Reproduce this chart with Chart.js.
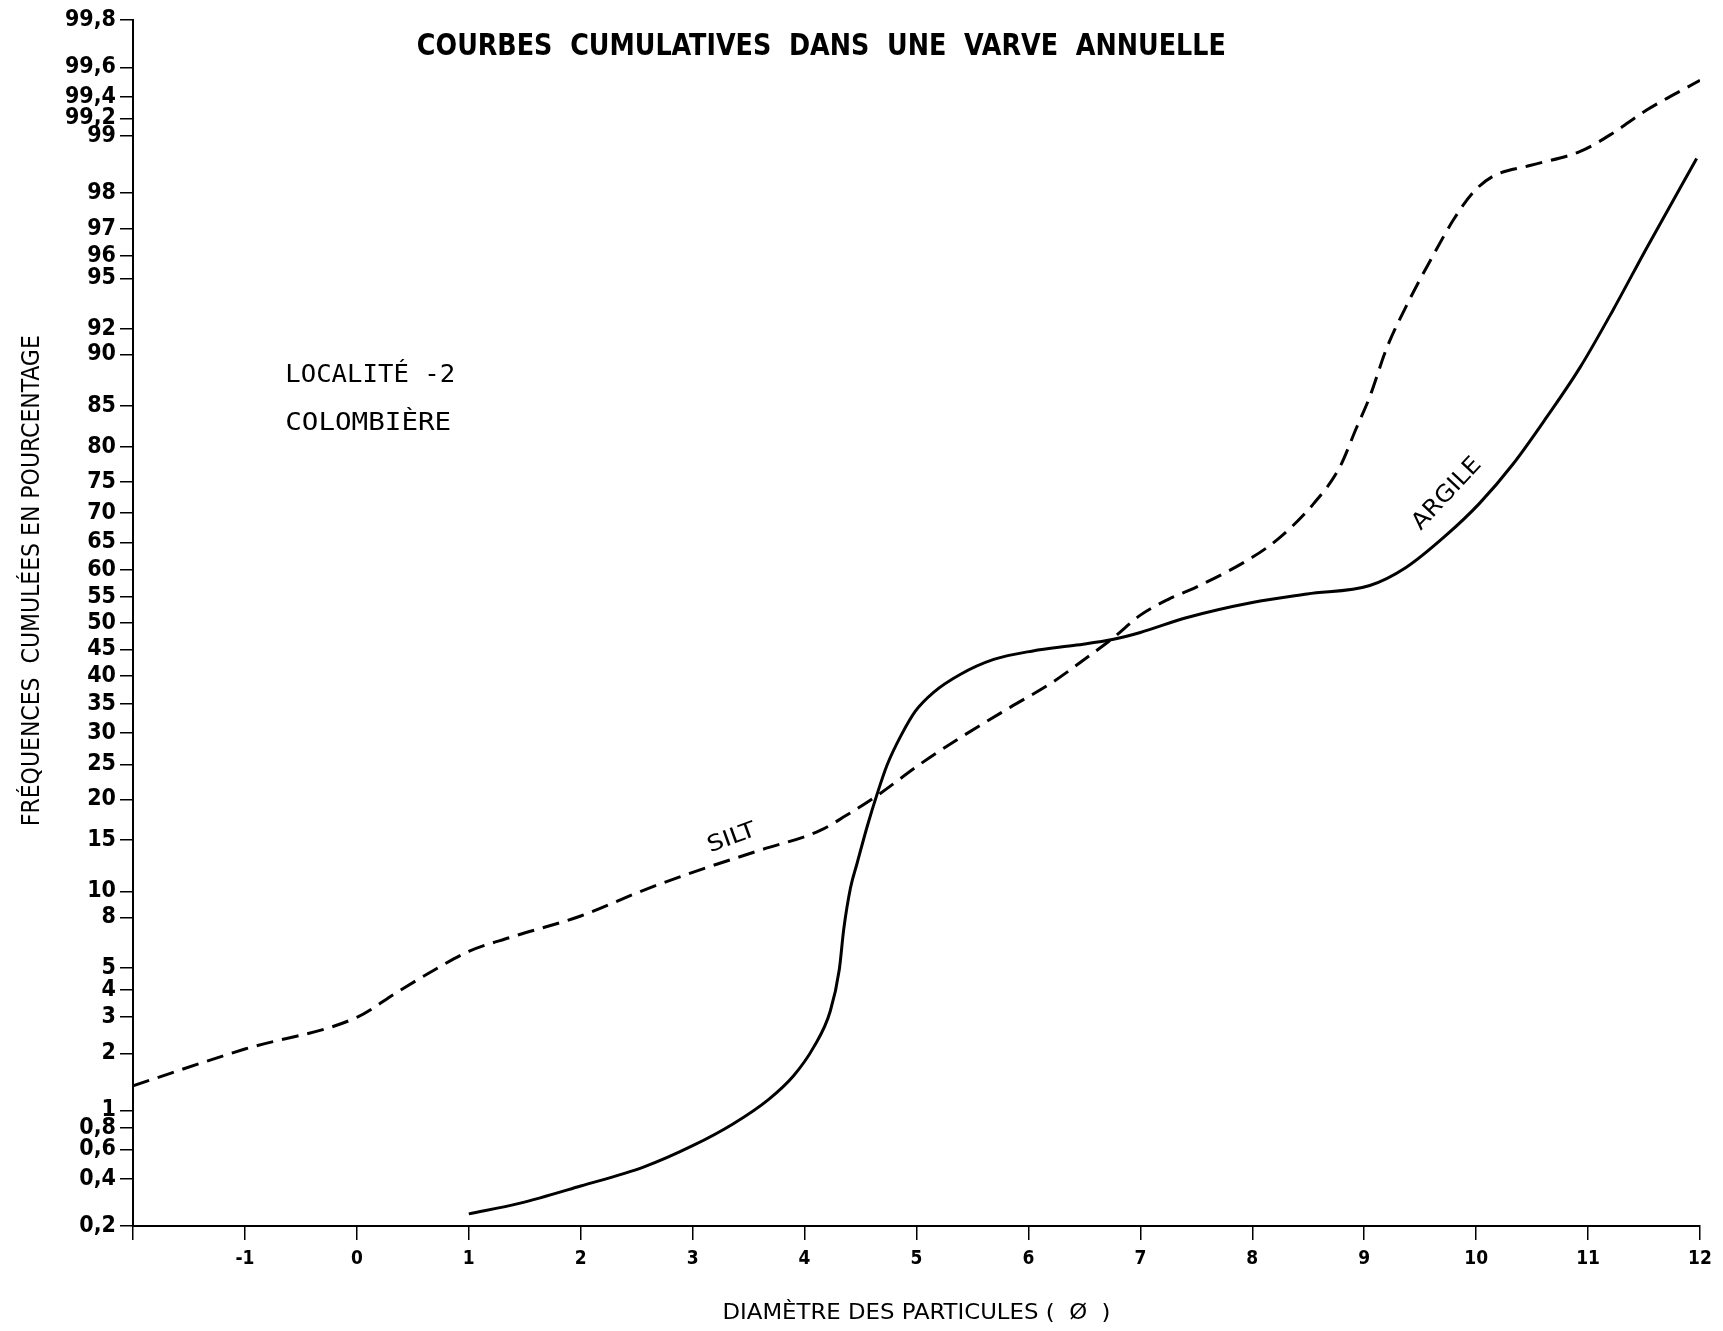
<!DOCTYPE html>
<html>
<head>
<meta charset="utf-8">
<title>Courbes cumulatives</title>
<script src="https://cdn.jsdelivr.net/npm/chart.js@4/dist/chart.umd.min.js"></script>
<style>
  html, body { margin: 0; padding: 0; background: #fff; }
  canvas { display: block; }
</style>
</head>
<body>
<canvas id="courbes" width="1723" height="1331"></canvas>
<script>
// diamètre en unités phi
const phiTicks = [-2, -1, 0, 1, 2, 3, 4, 5, 6, 7, 8, 9, 10, 11, 12];

// graduations de l'échelle de probabilité (en %)
const pctTicks = [0.2, 0.4, 0.6, 0.8, 1, 2, 3, 4, 5, 8, 10, 15, 20, 25, 30, 35, 40, 45, 50,
  55, 60, 65, 70, 75, 80, 85, 90, 92, 95, 96, 97, 98, 99, 99.2, 99.4, 99.6, 99.8];

// SILT (courbe en tirets)
const siltPhi = [-2, -1, 0, 0.36, 0.68, 1, 1.37, 2, 2.56, 3, 3.6, 4.14, 4.37, 4.63, 5.03, 5.39,
  5.84, 6.21, 6.52, 6.76, 7, 7.25, 7.5, 8, 8.25, 8.55, 8.78, 8.93, 9.05, 9.2, 9.4, 9.6,
  9.8, 9.97, 10.15, 10.48, 10.93, 11.22, 11.52, 12];
const siltPct = [1.36, 2.1, 2.99, 3.9, 4.85, 5.85, 6.67, 8.1, 10.1, 11.7, 13.9, 16.1, 17.9, 20.3,
  25, 29.2, 34.4, 38.8, 43.4, 47.2, 51.5, 54.5, 56.8, 62.3, 65.9, 71.6, 77.1, 82.4, 86.0, 90.5,
  93.8, 95.9, 97.3, 98, 98.35, 98.55, 98.78, 99.03, 99.28, 99.52];

// ARGILE (courbe pleine)
const argilePhi = [1, 1.45, 2, 2.56, 3, 3.36, 3.68, 3.9, 4.08, 4.23, 4.31, 4.35, 4.41, 4.47, 4.56,
  4.65, 4.74, 4.86, 4.99, 5.15, 5.39, 5.69, 6.04, 6.43, 6.76, 7, 7.41, 8, 8.49, 9.05, 9.37,
  9.73, 10.03, 10.33, 10.63, 10.93, 11.22, 11.52, 11.97];
const argilePct = [0.24, 0.28, 0.36, 0.47, 0.63, 0.84, 1.15, 1.53, 2.14, 3.2, 4.9, 7.2, 10.3, 12.6,
  16.6, 20.8, 25, 29.5, 33.7, 37, 40.3, 43.1, 44.7, 45.8, 46.9, 48.2, 51, 53.9, 55.5, 57.1,
  60.4, 66.2, 71.6, 77.6, 83.7, 88.9, 93.2, 96.3, 98.67];

// inverse de la loi normale (Acklam) -> échelle gausso-arithmétique
function probit(pct) {
  const p = pct / 100;
  const a = [-3.969683028665376e+01, 2.209460984245205e+02, -2.759285104469687e+02, 1.383577518672690e+02, -3.066479806614716e+01, 2.506628277459239e+00];
  const b = [-5.447609879822406e+01, 1.615858368580409e+02, -1.556989798598866e+02, 6.680131188771972e+01, -1.328068155288572e+01];
  const c = [-7.784894002430293e-03, -3.223964580411365e-01, -2.400758277161838e+00, -2.549732539343734e+00, 4.374664141464968e+00, 2.938163982698783e+00];
  const d = [7.784695709041462e-03, 3.224671290700398e-01, 2.445134137142996e+00, 3.754408661907416e+00];
  const plow = 0.02425;
  let q, r;
  if (p < plow) {
    q = Math.sqrt(-2 * Math.log(p));
    return (((((c[0]*q+c[1])*q+c[2])*q+c[3])*q+c[4])*q+c[5]) / ((((d[0]*q+d[1])*q+d[2])*q+d[3])*q+1);
  }
  if (p > 1 - plow) {
    q = Math.sqrt(-2 * Math.log(1 - p));
    return -(((((c[0]*q+c[1])*q+c[2])*q+c[3])*q+c[4])*q+c[5]) / ((((d[0]*q+d[1])*q+d[2])*q+d[3])*q+1);
  }
  q = p - 0.5;
  r = q * q;
  return (((((a[0]*r+a[1])*r+a[2])*r+a[3])*r+a[4])*r+a[5])*q / (((((b[0]*r+b[1])*r+b[2])*r+b[3])*r+b[4])*r+1);
}

function points(phi, pct) {
  return phi.map((v, i) => ({ x: v, y: probit(pct[i]) }));
}

const narrow = '"Liberation Sans Narrow", "DejaVu Sans Condensed", sans-serif';
const cond = '"DejaVu Sans Condensed", "Liberation Sans Narrow", sans-serif';

// écrit un texte étiré/comprimé à une largeur donnée
function drawFitted(ctx, text, cx, cy, width, font, angle, align) {
  ctx.save();
  ctx.font = font;
  ctx.translate(cx, cy);
  ctx.rotate(angle || 0);
  const w = ctx.measureText(text).width;
  ctx.scale(width / w, 1);
  ctx.textAlign = align || 'center';
  ctx.textBaseline = 'middle';
  ctx.fillText(text, 0, 0);
  ctx.restore();
}

const textes = {
  id: 'textes',
  afterDraw(chart) {
    const { ctx, scales: { x, y }, chartArea } = chart;
    const px = v => x.getPixelForValue(v);
    const py = p => y.getPixelForValue(probit(p));
    ctx.save();
    ctx.fillStyle = '#000';

    drawFitted(ctx, 'COURBES  CUMULATIVES  DANS  UNE  VARVE  ANNUELLE', px(4.15), py(99.70), 809,
      'bold 30px ' + cond);

    drawFitted(ctx, 'LOCALITÉ -2', px(-0.64), py(88.1), 170, '500 25px "DejaVu Sans Mono", monospace', 0, 'left');
    drawFitted(ctx, 'COLOMBIÈRE', px(-0.64), py(83.0), 166, '500 25px "DejaVu Sans Mono", monospace', 0, 'left');

    drawFitted(ctx, 'SILT', px(3.35), py(15.2), 50, '22px ' + cond, -20 * Math.PI / 180);
    drawFitted(ctx, 'ARGILE', px(9.74), py(73.1), 90, '23px ' + cond, -47 * Math.PI / 180);

    // titres des axes
    drawFitted(ctx, 'FRÉQUENCES  CUMULÉES EN POURCENTAGE', 33, py(58), 491, '24px ' + cond, -Math.PI / 2);
    drawFitted(ctx, 'DIAMÈTRE DES PARTICULES (  Ø  )', (chartArea.left + chartArea.right) / 2, 1313, 388,
      '22px ' + cond);
    ctx.restore();
  }
};

new Chart(document.getElementById('courbes'), {
  type: 'line',
  data: {
    datasets: [
      {
        label: 'SILT',
        data: points(siltPhi, siltPct),
        borderColor: '#000',
        borderWidth: 3,
        borderDash: [17, 9],
        pointRadius: 0,
        cubicInterpolationMode: 'monotone',
        fill: false
      },
      {
        label: 'ARGILE',
        data: points(argilePhi, argilePct),
        borderColor: '#000',
        borderWidth: 3,
        pointRadius: 0,
        cubicInterpolationMode: 'monotone',
        fill: false
      }
    ]
  },
  options: {
    responsive: false,
    animation: false,
    events: [],
    layout: { padding: { top: 20, right: 23, left: 0, bottom: 0 } },
    plugins: {
      legend: { display: false },
      title: { display: false },
      tooltip: { enabled: false }
    },
    scales: {
      x: {
        type: 'linear',
        min: -2,
        max: 12,
        afterBuildTicks: axis => { axis.ticks = phiTicks.map(v => ({ value: v })); },
        afterFit: scale => { scale.height = 105; },
        ticks: {
          autoSkip: false,
          maxRotation: 0,
          color: '#000',
          padding: 8,
          font: { family: narrow, size: 19, weight: 'bold' },
          callback: v => (v === -2 ? '' : String(v))
        },
        grid: { drawOnChartArea: false, drawTicks: true, tickLength: 14, color: '#000', lineWidth: 1.5 },
        border: { display: true, color: '#000', width: 2 }
      },
      y: {
        type: 'linear',
        min: probit(0.2),
        max: probit(99.8),
        afterBuildTicks: axis => { axis.ticks = pctTicks.map(p => ({ value: probit(p) })); },
        afterFit: scale => { scale.width = 133; },
        ticks: {
          autoSkip: false,
          color: '#000',
          padding: 4,
          font: { family: narrow, size: 23, weight: 'bold' },
          callback: (v, i) => String(pctTicks[i]).replace('.', ',')
        },
        grid: { drawOnChartArea: false, drawTicks: true, tickLength: 13, color: '#000', lineWidth: 1.5 },
        border: { display: true, color: '#000', width: 2 }
      }
    }
  },
  plugins: [textes]
});
</script>
</body>
</html>
